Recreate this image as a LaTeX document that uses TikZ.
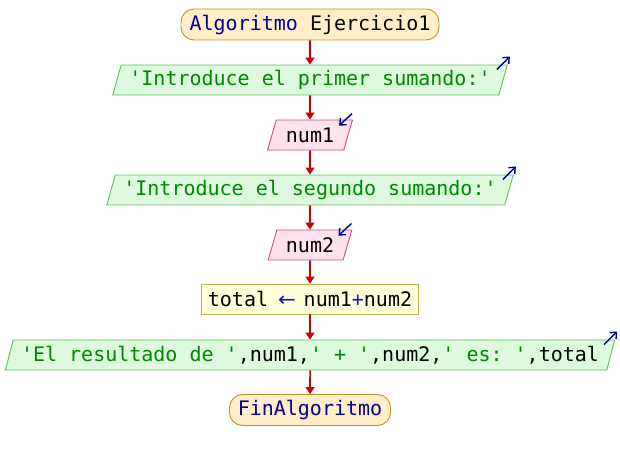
\documentclass[tikz,border=0pt]{standalone}
\usepackage{fontspec}
\usepackage{graphicx}
\setmonofont{DejaVu Sans Mono}
\newfontfamily\arrowfont{DejaVu Sans}
\usetikzlibrary{shapes.geometric,arrows.meta}

\definecolor{termfill}{RGB}{255,238,200}
\definecolor{termline}{RGB}{200,140,50}
\definecolor{outfill}{RGB}{222,250,222}
\definecolor{outline}{RGB}{100,190,100}
\definecolor{infill}{RGB}{255,226,236}
\definecolor{inline}{RGB}{200,80,130}
\definecolor{asgfill}{RGB}{255,255,218}
\definecolor{asgline}{RGB}{190,180,80}
\definecolor{flow}{RGB}{205,0,0}
\definecolor{kw}{RGB}{0,0,150}
\definecolor{str}{RGB}{0,135,0}
\definecolor{op}{RGB}{20,20,200}

\newcommand{\kwd}[1]{\textcolor{kw}{#1}}
\newcommand{\strg}[1]{\textcolor{str}{#1}}
\newcommand{\opr}[1]{\textcolor{op}{#1}}
\newcommand{\assignarrow}{\hspace{10pt}\textcolor{op}{\scalebox{1.05}[1]{\arrowfont ←}}\hspace{8pt}}

\begin{document}
\begin{tikzpicture}[x=1pt,y=-1pt,
  base/.style={font=\fontsize{20}{24}\selectfont\ttfamily, inner sep=0pt, line width=0.9pt, text=black},
  terminal/.style={base, draw=termline, fill=termfill, rounded corners=13pt, minimum height=31pt},
  slanted/.style={base, trapezium, trapezium left angle=67.4, trapezium right angle=112.6,
    trapezium stretches=true, minimum height=30pt},
  outbox/.style={slanted, draw=outline, fill=outfill},
  inbox/.style={slanted, draw=inline, fill=infill},
  asgbox/.style={base, draw=asgline, fill=asgfill, minimum height=30pt},
  flowline/.style={draw=flow, line width=1.6pt, -{Triangle[length=7pt,width=9pt]}},
  outicon/.style={draw=kw, line width=1.4pt, -{Straight Barb[length=5pt,width=9pt]}},
]
\useasboundingbox (0,0) rectangle (620,460);

% blocks of the flowchart
\node[terminal, minimum width=258pt] (start) at (310,24.5)
  {\kwd{Algoritmo} Ejercicio1};
\node[outbox, minimum width=396pt] (out1) at (310,80)
  {\strg{'Introduce el primer sumando:'}};
\node[inbox, minimum width=85pt] (in1) at (310,135) {num1};
\node[outbox, minimum width=407pt] (out2) at (310,190)
  {\strg{'Introduce el segundo sumando:'}};
\node[inbox, minimum width=84pt] (in2) at (310,245) {num2};
\node[asgbox, minimum width=217pt] (asg) at (310,299)
  {total\assignarrow num1\opr{+}num2};
\node[outbox, minimum width=612pt] (out3) at (310,355)
  {\strg{'El resultado de '},num1,\strg{' + '},num2,\strg{' es: '},total};
\node[terminal, minimum width=161pt] (stop) at (310,410) {\kwd{FinAlgoritmo}};

% control flow
\draw[flowline] (start) -- (out1);
\draw[flowline] (out1) -- (in1);
\draw[flowline] (in1) -- (out2);
\draw[flowline] (out2) -- (in2);
\draw[flowline] (in2) -- (asg);
\draw[flowline] (asg) -- (out3);
\draw[flowline] (out3) -- (stop);

% input / output markers
\foreach \n in {out1,out2,out3}
  \draw[outicon] ([shift={(-11,5)}]\n.top right corner) -- ([shift={(2,-8)}]\n.top right corner);
\foreach \n in {in1,in2}
  \draw[outicon] ([shift={(-1,-6)}]\n.top right corner) -- ([shift={(-14,6)}]\n.top right corner);
\end{tikzpicture}
\end{document}
